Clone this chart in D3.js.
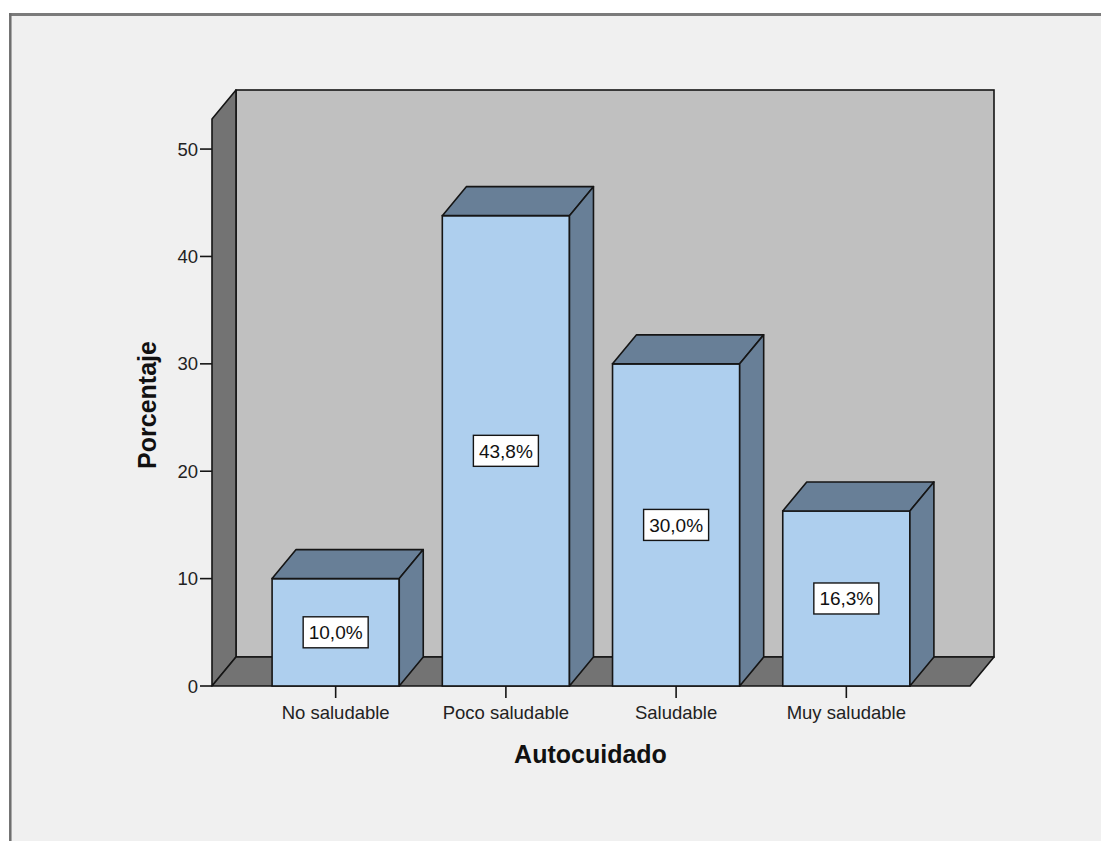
<!DOCTYPE html>
<html><head><meta charset="utf-8">
<script src="https://cdn.jsdelivr.net/npm/d3@7"></script>
<style>html,body{margin:0;padding:0;background:#fff;}svg{display:block;}</style>
</head><body>
<script>
const categories = ["No saludable", "Poco saludable", "Saludable", "Muy saludable"];
const values = [10.0, 43.8, 30.0, 16.3];
const valueLabels = ["10,0%", "43,8%", "30,0%", "16,3%"];
const yTicks = [0, 10, 20, 30, 40, 50];
const xTitle = "Autocuidado";
const yTitle = "Porcentaje";

const W = 1101, H = 841;
const font = "'Liberation Sans', Arial, sans-serif";
const svg = d3.select("body").append("svg").attr("width", W).attr("height", H);

// background + frame
svg.append("rect").attr("width", W).attr("height", H).attr("fill", "#ffffff");
svg.append("rect").attr("x", 11).attr("y", 16).attr("width", W - 11).attr("height", H - 16).attr("fill", "#f0f0f0");
svg.append("line").attr("x1", 9).attr("x2", W).attr("y1", 14.5).attr("y2", 14.5).attr("stroke", "#7b7b7b").attr("stroke-width", 3);
svg.append("line").attr("x1", 10.3).attr("x2", 10.3).attr("y1", 13).attr("y2", H).attr("stroke", "#6e6e6e").attr("stroke-width", 2.5);

const x = d3.scaleBand().domain(categories).range([212, 970]).paddingInner(0.253).paddingOuter(0.353);
const y = d3.scaleLinear().domain([0, 52.8]).range([686, 119]);
const dx = 24, dy = -29;
const [x0, x1] = x.range();
const yb = y(0), yt = y(52.8);
const stroke = "#151515";

// back wall
svg.append("rect").attr("x", x0 + dx).attr("y", yt + dy).attr("width", x1 - x0).attr("height", yb - yt)
  .attr("fill", "#c0c0c0").attr("stroke", stroke).attr("stroke-width", 1.6);
// left wall
svg.append("polygon").attr("points", [[x0, yb], [x0, yt], [x0 + dx, yt + dy], [x0 + dx, yb + dy]].join(" "))
  .attr("fill", "#737373").attr("stroke", stroke).attr("stroke-width", 1.6).attr("stroke-linejoin", "round");
// floor
svg.append("polygon").attr("points", [[x0, yb], [x0 + dx, yb + dy], [x1 + dx, yb + dy], [x1, yb]].join(" "))
  .attr("fill", "#737373").attr("stroke", stroke).attr("stroke-width", 1.6).attr("stroke-linejoin", "round");

// bars
const bars = svg.append("g").selectAll("g").data(categories).join("g");
bars.each(function (c, i) {
  const g = d3.select(this);
  const bx = x(c), bw = x.bandwidth(), top = y(values[i]);
  g.append("rect").attr("x", bx).attr("y", top).attr("width", bw).attr("height", yb - top)
    .attr("fill", "#aecfee").attr("stroke", stroke).attr("stroke-width", 1.6);
  g.append("polygon").attr("points", [[bx, top], [bx + dx, top + dy], [bx + bw + dx, top + dy], [bx + bw, top]].join(" "))
    .attr("fill", "#687f97").attr("stroke", stroke).attr("stroke-width", 1.6).attr("stroke-linejoin", "round");
  g.append("polygon").attr("points", [[bx + bw, top], [bx + bw + dx, top + dy], [bx + bw + dx, yb + dy], [bx + bw, yb]].join(" "))
    .attr("fill", "#687f97").attr("stroke", stroke).attr("stroke-width", 1.6).attr("stroke-linejoin", "round");
  const cx = bx + bw / 2, cy = (top + yb) / 2;
  g.append("rect").attr("x", cx - 32.5).attr("y", cy - 15.5).attr("width", 65).attr("height", 31)
    .attr("fill", "#ffffff").attr("stroke", stroke).attr("stroke-width", 1.4);
  g.append("text").attr("x", cx).attr("y", cy + 7).attr("text-anchor", "middle")
    .attr("font-family", font).attr("font-size", 19).attr("fill", "#111").text(valueLabels[i]);
});

// y axis ticks
const yAxis = svg.append("g");
yAxis.selectAll("line").data(yTicks).join("line")
  .attr("x1", 200).attr("x2", x0).attr("y1", d => y(d)).attr("y2", d => y(d))
  .attr("stroke", stroke).attr("stroke-width", 1.6);
yAxis.selectAll("text").data(yTicks).join("text")
  .attr("x", 198).attr("y", d => y(d) + 6.5).attr("text-anchor", "end")
  .attr("font-family", font).attr("font-size", 18.5).attr("fill", "#222").text(d => d);

// x axis ticks
const xAxis = svg.append("g");
xAxis.selectAll("line").data(categories).join("line")
  .attr("x1", d => x(d) + x.bandwidth() / 2).attr("x2", d => x(d) + x.bandwidth() / 2)
  .attr("y1", yb).attr("y2", yb + 12).attr("stroke", stroke).attr("stroke-width", 1.6);
xAxis.selectAll("text").data(categories).join("text")
  .attr("x", d => x(d) + x.bandwidth() / 2).attr("y", 719).attr("text-anchor", "middle")
  .attr("font-family", font).attr("font-size", 18.5).attr("fill", "#222").text(d => d);

// titles
svg.append("text").attr("x", 590.5).attr("y", 763).attr("text-anchor", "middle")
  .attr("font-family", font).attr("font-size", 25).attr("font-weight", "bold").attr("fill", "#111").text(xTitle);
svg.append("text").attr("transform", "translate(156,405) rotate(-90)").attr("text-anchor", "middle")
  .attr("font-family", font).attr("font-size", 25).attr("font-weight", "bold").attr("fill", "#111").text(yTitle);
</script>
</body></html>
